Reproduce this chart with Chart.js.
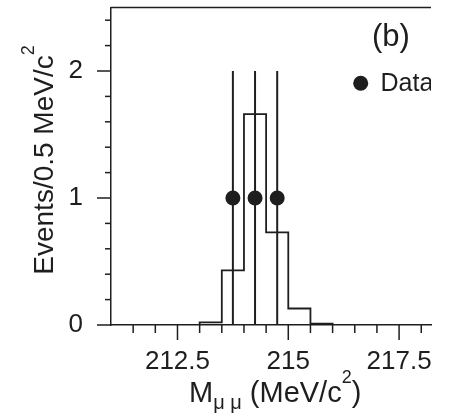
<!DOCTYPE html>
<html><head><meta charset="utf-8">
<script src="https://cdn.jsdelivr.net/npm/chart.js@4/dist/chart.umd.min.js"></script>
<style>html,body{margin:0;padding:0;background:#fff}canvas{display:block}</style>
</head><body>
<canvas id="c" width="449" height="413"></canvas>
<script>
// ---- data ----
const binEdges = [213.0, 213.5, 214.0, 214.5, 215.0, 215.5, 216.0];
const binValues = [0.02, 0.43, 1.66, 0.73, 0.13, 0.01];
const dataX = [213.75, 214.25, 214.75];
const dataY = [1, 1, 1];
const dataErrLow = [0, 0, 0];
const dataErrHigh = [2, 2, 2];
const xMajorLabels = [212.5, 215, 217.5];
const yMajorLabels = [0, 1, 2];
const xRange = [211, 218.22];
const yRange = [0, 2.5];
const xStep = 0.5;
const yStep = 0.2;

const INK = '#1e1e1e';
const FONT = "'Liberation Sans', Arial, Helvetica, sans-serif";

const isMajor = (v, arr) => arr.some(m => Math.abs(m - v) < 1e-6);

// histogram as stepped line through bin edges
const histPoints = [{x: binEdges[0], y: 0}];
binValues.forEach((v, i) => histPoints.push({x: binEdges[i], y: v}));
histPoints.push({x: binEdges[binEdges.length - 1], y: 0});

// error bars as vertical segments separated by gaps
const errPoints = [];
dataX.forEach((xv, i) => {
  errPoints.push({x: xv, y: dataErrLow[i]});
  errPoints.push({x: xv, y: dataErrHigh[i]});
  errPoints.push({x: xv, y: null});
});

const dataPoints = dataX.map((xv, i) => ({x: xv, y: dataY[i]}));

const decor = {
  id: 'decor',
  afterDraw(chart) {
    const {ctx, chartArea: a, scales: {x, y}} = chart;
    ctx.save();
    ctx.strokeStyle = INK;
    ctx.lineWidth = 1.5;
    // top frame line
    ctx.beginPath(); ctx.moveTo(a.left, a.top); ctx.lineTo(a.right, a.top); ctx.stroke();
    // x tick marks (outside, below)
    x.ticks.forEach(t => {
      const px = x.getPixelForValue(t.value);
      if (px <= a.left + 1 || px >= a.right - 1) return;
      const len = isMajor(t.value, xMajorLabels) ? 15 : 8;
      ctx.beginPath(); ctx.moveTo(px, a.bottom); ctx.lineTo(px, a.bottom + len); ctx.stroke();
    });
    // y tick marks (outside, left)
    y.ticks.forEach(t => {
      const py = y.getPixelForValue(t.value);
      const len = isMajor(t.value, yMajorLabels) ? 14 : 6;
      ctx.beginPath(); ctx.moveTo(a.left, py); ctx.lineTo(a.left - len, py); ctx.stroke();
    });

    ctx.fillStyle = INK;
    ctx.textBaseline = 'alphabetic';
    ctx.textAlign = 'left';
    // x axis title: M_{μμ} (MeV/c^2)
    {
      const big = "29px " + FONT, small = "20px " + FONT, sup = "18px " + FONT;
      const parts = [
        {t: 'M', f: big, dy: 0},
        {t: 'μ μ', f: small, dy: 7},
        {t: ' (MeV/c', f: big, dy: 0},
        {t: '2', f: sup, dy: -19},
        {t: ')', f: big, dy: 0}
      ];
      let w = 0;
      parts.forEach(p => { ctx.font = p.f; p.w = ctx.measureText(p.t).width; w += p.w; });
      let cx = 189;
      const base = 402;
      parts.forEach(p => { ctx.font = p.f; ctx.fillText(p.t, cx, base + p.dy); cx += p.w; });
    }
    // y axis title: Events/0.5 MeV/c^2 (rotated)
    {
      const big = "28px " + FONT, sup = "18px " + FONT;
      const parts = [
        {t: 'Events/0.5 MeV/c', f: big, dy: 0},
        {t: '2', f: sup, dy: -19}
      ];
      let w = 0;
      parts.forEach(p => { ctx.font = p.f; p.w = ctx.measureText(p.t).width; w += p.w; });
      ctx.save();
      ctx.translate(53, 160);
      ctx.rotate(-Math.PI / 2);
      let cx = -w / 2;
      parts.forEach(p => { ctx.font = p.f; ctx.fillText(p.t, cx, p.dy); cx += p.w; });
      ctx.restore();
    }
    // panel label and legend, clipped like the reference
    ctx.save();
    ctx.beginPath(); ctx.rect(0, 0, a.right, chart.height); ctx.clip();
    ctx.font = "31px " + FONT;
    ctx.fillText('(b)', 372, 46);
    ctx.beginPath(); ctx.arc(360.7, 83.3, 7.5, 0, Math.PI * 2); ctx.fill();
    ctx.font = "25px " + FONT;
    ctx.fillText('Data', 380.5, 91);
    ctx.restore();
    ctx.restore();
  }
};

new Chart(document.getElementById('c'), {
  type: 'line',
  data: {
    datasets: [
      {
        label: 'Histogram',
        data: histPoints,
        stepped: 'before',
        borderColor: INK,
        borderWidth: 1.8,
        pointRadius: 0,
        fill: false,
        order: 3
      },
      {
        label: 'Errors',
        data: errPoints,
        borderColor: INK,
        borderWidth: 2,
        pointRadius: 0,
        spanGaps: false,
        fill: false,
        order: 2
      },
      {
        label: 'Data',
        data: dataPoints,
        showLine: false,
        pointRadius: 7.5,
        pointHoverRadius: 7.5,
        pointBackgroundColor: INK,
        pointBorderWidth: 0,
        order: 1
      }
    ]
  },
  options: {
    responsive: false,
    animation: false,
    events: [],
    layout: {padding: {left: 0, right: 18, top: 6, bottom: 0}},
    plugins: {legend: {display: false}, tooltip: {enabled: false}},
    scales: {
      x: {
        type: 'linear',
        position: 'bottom',
        min: xRange[0], max: xRange[1],
        grid: {display: false, drawTicks: false},
        border: {display: true, color: INK, width: 1.5},
        ticks: {
          stepSize: xStep, includeBounds: false, autoSkip: false, maxRotation: 0,
          padding: 21, color: INK, font: {family: FONT, size: 26},
          callback: v => isMajor(v, xMajorLabels) ? String(xMajorLabels.find(m => Math.abs(m - v) < 1e-6)) : ''
        },
        afterFit: s => { s.height = 88; s.paddingLeft = 0; s.paddingRight = 0; }
      },
      y: {
        type: 'linear',
        min: yRange[0], max: yRange[1],
        grid: {display: false, drawTicks: false},
        border: {display: true, color: INK, width: 1.5},
        ticks: {
          stepSize: yStep, includeBounds: false, autoSkip: false,
          padding: 28, color: INK, font: {family: FONT, size: 26},
          callback: v => isMajor(v, yMajorLabels) ? String(Math.round(v)) : ''
        },
        afterFit: s => { s.width = 111; s.paddingTop = 0; s.paddingBottom = 0; }
      }
    }
  },
  plugins: [decor]
});
</script>
</body></html>
